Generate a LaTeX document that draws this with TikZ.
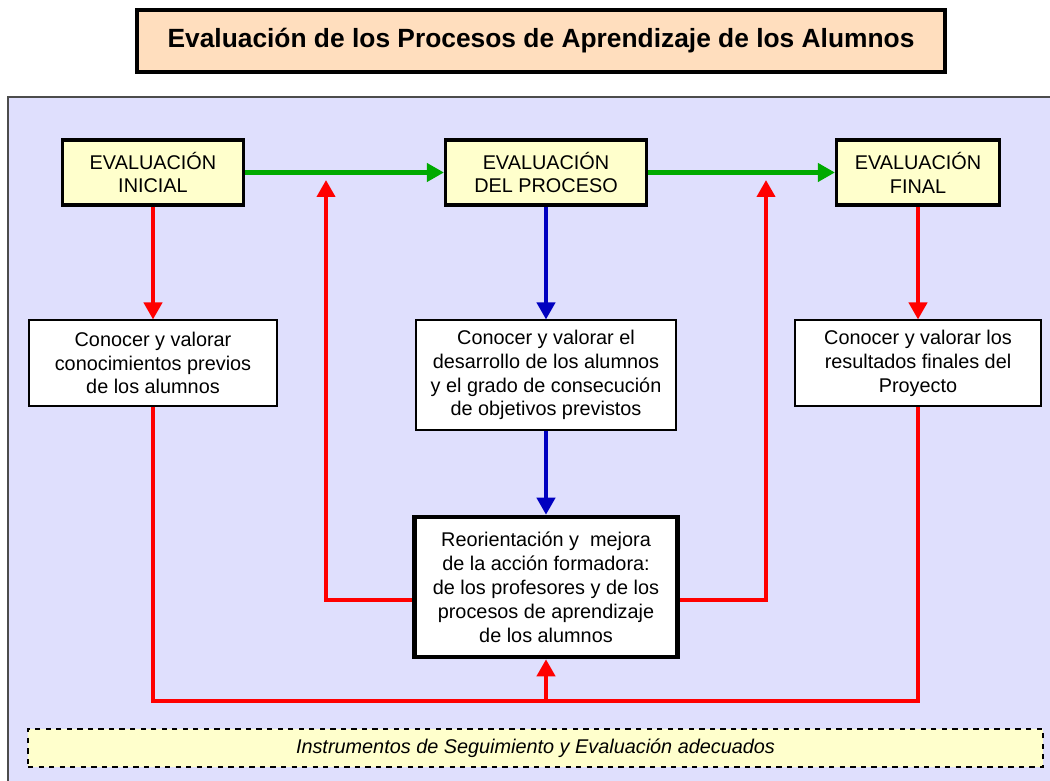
\documentclass[tikz,border=0pt]{standalone}
\usepackage{fontspec}
\setmainfont{Liberation Sans}
\usetikzlibrary{arrows.meta}
\definecolor{panel}{HTML}{DFDFFD}
\definecolor{peach}{HTML}{FFDEBE}
\definecolor{lyellow}{HTML}{FFFFCC}
\definecolor{gr}{HTML}{00AA00}
\definecolor{rd}{HTML}{FF0000}
\definecolor{bl}{HTML}{0000C0}
\begin{document}
\begin{tikzpicture}[x=0.02cm,y=-0.02cm,
  txt/.style={font=\fontsize{11.3pt}{13.6pt}\selectfont, align=center, inner sep=0pt},
  evalbox/.style={txt, draw=black, line width=1.8pt, fill=lyellow},
  infobox/.style={txt, draw=black, line width=0.6pt, fill=white},
  arr/.style={line width=2.3pt, -{Triangle[length=0.34cm,width=0.36cm]}},
  lin/.style={line width=2.3pt}]
\useasboundingbox (0,0) rectangle (1050,780);
\fill[white] (0,0) rectangle (1050,780);
% title
\node[draw=black, line width=1.8pt, fill=peach, minimum width={808*0.02cm}, minimum height={62*0.02cm},
  font=\fontsize{15pt}{17pt}\selectfont\bfseries, inner sep=0pt] (title) at (541,41)
  {Evaluación de los Procesos de Aprendizaje de los Alumnos};
% panel
\draw[fill=panel, draw=black!70, line width=0.6pt] (8,97) rectangle (1070,800);
% top row
\node[evalbox, minimum width={181*0.02cm}, minimum height={65*0.02cm}] (ei) at (153,172.5) {EVALUACIÓN\\INICIAL};
\node[evalbox, minimum width={201*0.02cm}, minimum height={65*0.02cm}] (ep) at (546,172.5) {EVALUACIÓN\\DEL PROCESO};
\node[evalbox, minimum width={163*0.02cm}, minimum height={65*0.02cm}] (ef) at (918,172.5) {EVALUACIÓN\\FINAL};
% middle row
\node[infobox, minimum width={248*0.02cm}, minimum height={86*0.02cm}] (c1) at (153,363) {Conocer y valorar\\conocimientos previos\\de los alumnos};
\node[infobox, minimum width={260*0.02cm}, minimum height={110*0.02cm}] (c2) at (546,375) {Conocer y valorar el\\desarrollo de los alumnos\\y el grado de consecución\\de objetivos previstos};
\node[infobox, minimum width={246*0.02cm}, minimum height={86*0.02cm}] (c3) at (918,363) {Conocer y valorar los\\resultados finales del\\Proyecto};
% reorientation
\node[txt, draw=black, line width=2.6pt, fill=white, minimum width={263*0.02cm}, minimum height={140*0.02cm}] (r) at (546,587)
  {Reorientación y\ \ mejora\\de la acción formadora:\\de los profesores y de los\\procesos de aprendizaje\\de los alumnos};
% instruments
\node[draw=black, dashed, line width=0.7pt, fill=lyellow, minimum width={1015*0.02cm}, minimum height={38*0.02cm},
  font=\fontsize{11.3pt}{13.6pt}\selectfont\itshape, inner sep=0pt] (inst) at (535.5,748) {Instrumentos de Seguimiento y Evaluación adecuados};
% coordinates
\coordinate (lup) at (326,180);
\coordinate (rup) at (766,180);
\coordinate (bl1) at (153,701);
\coordinate (bl2) at (918,701);
\coordinate (bmid) at (546,701);
% green arrows
\draw[arr, gr] (ei.east) -- (ep.west);
\draw[arr, gr] (ep.east) -- (ef.west);
% down arrows
\draw[arr, rd] (ei.south) -- (c1.north);
\draw[arr, bl] (ep.south) -- (c2.north);
\draw[arr, rd] (ef.south) -- (c3.north);
\draw[arr, bl] (c2.south) -- (r.north);
% feedback loops
\draw[arr, rd] (r.west |- 0,600) -| (lup);
\draw[arr, rd] (r.east |- 0,600) -| (rup);
\draw[lin, rd, line join=miter] (c1.south) -- (bl1) -- (bl2) -- (c3.south);
\draw[arr, rd] (bmid) -- (r.south);
\end{tikzpicture}
\end{document}
